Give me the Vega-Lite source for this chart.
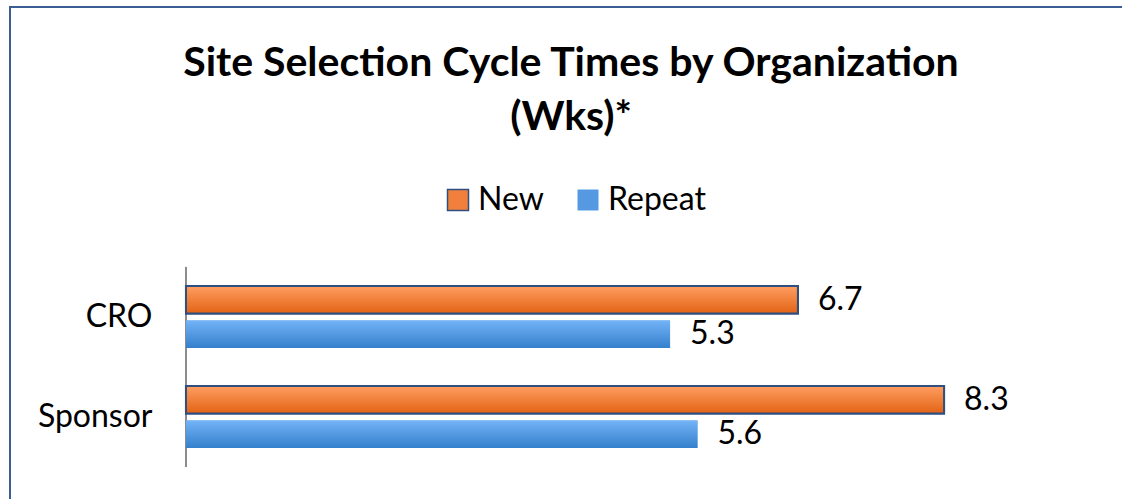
{
  "$schema": "https://vega.github.io/schema/vega-lite/v6.json",
  "width": 1135,
  "height": 500,
  "autosize": {"type": "none"},
  "padding": {"left": 10, "top": 7, "right": 0, "bottom": 0},
  "background": "white",
  "config": {"view": {"stroke": "#3B5E92", "strokeWidth": 2}, "font": "Lato"},
  "title": {
    "text": ["Site Selection Cycle Times by Organization", "(Wks)*"],
    "fontSize": 41,
    "font": "Lato",
    "fontWeight": "bold",
    "color": "black",
    "anchor": "middle",
    "frame": "group",
    "offset": -132,
    "lineHeight": 54,
    "dx": -6.5
  },
  "data": {
    "values": [
      {"org": "CRO", "series": "New", "value": 6.7},
      {"org": "CRO", "series": "Repeat", "value": 5.3},
      {"org": "Sponsor", "series": "New", "value": 8.3},
      {"org": "Sponsor", "series": "Repeat", "value": 5.6}
    ]
  },
  "encoding": {
    "y": {
      "field": "org", "type": "nominal",
      "scale": {"domain": ["", " ", "CRO", "Sponsor"], "paddingInner": 0.38, "paddingOuter": 0.69, "align": 0.572},
      "axis": {"title": null, "orient": "left", "offset": -176, "domain": false, "ticks": false,
               "labelPadding": 34, "labelFontSize": 32, "labelFont": "Lato", "labelColor": "black"}
    },
    "x": {"field": "value", "type": "quantitative", "scale": {"domain": [-1.9267, 10.5], "nice": false}, "axis": null}
  },
  "layer": [
    {
      "mark": {"type": "rule", "color": "#8C8C8C", "strokeWidth": 2, "yOffset": -50, "y2Offset": 50},
      "encoding": {
        "x": {"datum": 0, "type": "quantitative"},
        "y2": {"field": "org"}
      }
    },
    {
      "mark": {"type": "bar", "strokeWidth": 2},
      "encoding": {
        "yOffset": {"field": "series", "type": "nominal", "scale": {"domain": ["New", "Repeat"], "paddingInner": 0.2, "paddingOuter": 0}},
        "fill": {
          "field": "series", "type": "nominal",
          "scale": {"domain": ["New", "Repeat"], "range": ["#F0803C", "#5599E2"]},
          "legend": {"title": null, "orient": "none", "legendX": 432, "legendY": 177, "direction": "horizontal",
                     "symbolType": "square", "symbolSize": 441, "labelFontSize": 32, "labelFont": "Lato",
                     "labelColor": "black", "labelOffset": 4, "columnPadding": 28}
        },
        "stroke": {
          "field": "series", "type": "nominal",
          "scale": {"domain": ["New", "Repeat"], "range": ["#2E4F7F", "rgba(0,0,0,0)"]},
          "legend": {"title": null, "orient": "none", "legendX": 432, "legendY": 177, "direction": "horizontal",
                     "symbolType": "square", "symbolSize": 441, "labelFontSize": 32, "labelFont": "Lato",
                     "labelColor": "black", "labelOffset": 4, "columnPadding": 28}
        }
      }
    },
    {
      "transform": [{"filter": "datum.series === 'New'"}],
      "mark": {"type": "bar", "strokeWidth": 2, "stroke": "#2E4F7F",
               "fill": {"gradient": "linear", "x1": 0, "y1": 0, "x2": 0, "y2": 1, "stops": [{"offset": 0, "color": "#FF9E62"}, {"offset": 1, "color": "#E26314"}]}},
      "encoding": {
        "yOffset": {"field": "series", "type": "nominal"}
      }
    },
    {
      "transform": [{"filter": "datum.series === 'Repeat'"}],
      "mark": {"type": "bar",
               "fill": {"gradient": "linear", "x1": 0, "y1": 0, "x2": 0, "y2": 1, "stops": [{"offset": 0, "color": "#74B3F7"}, {"offset": 1, "color": "#3480CC"}]}},
      "encoding": {
        "yOffset": {"field": "series", "type": "nominal"}
      }
    },
    {
      "mark": {"type": "text", "align": "left", "baseline": "middle", "dx": 20, "fontSize": 32, "font": "Lato", "color": "black"},
      "encoding": {
        "yOffset": {"field": "series", "type": "nominal"},
        "text": {"field": "value", "type": "quantitative", "format": ".1f"}
      }
    }
  ]
}
